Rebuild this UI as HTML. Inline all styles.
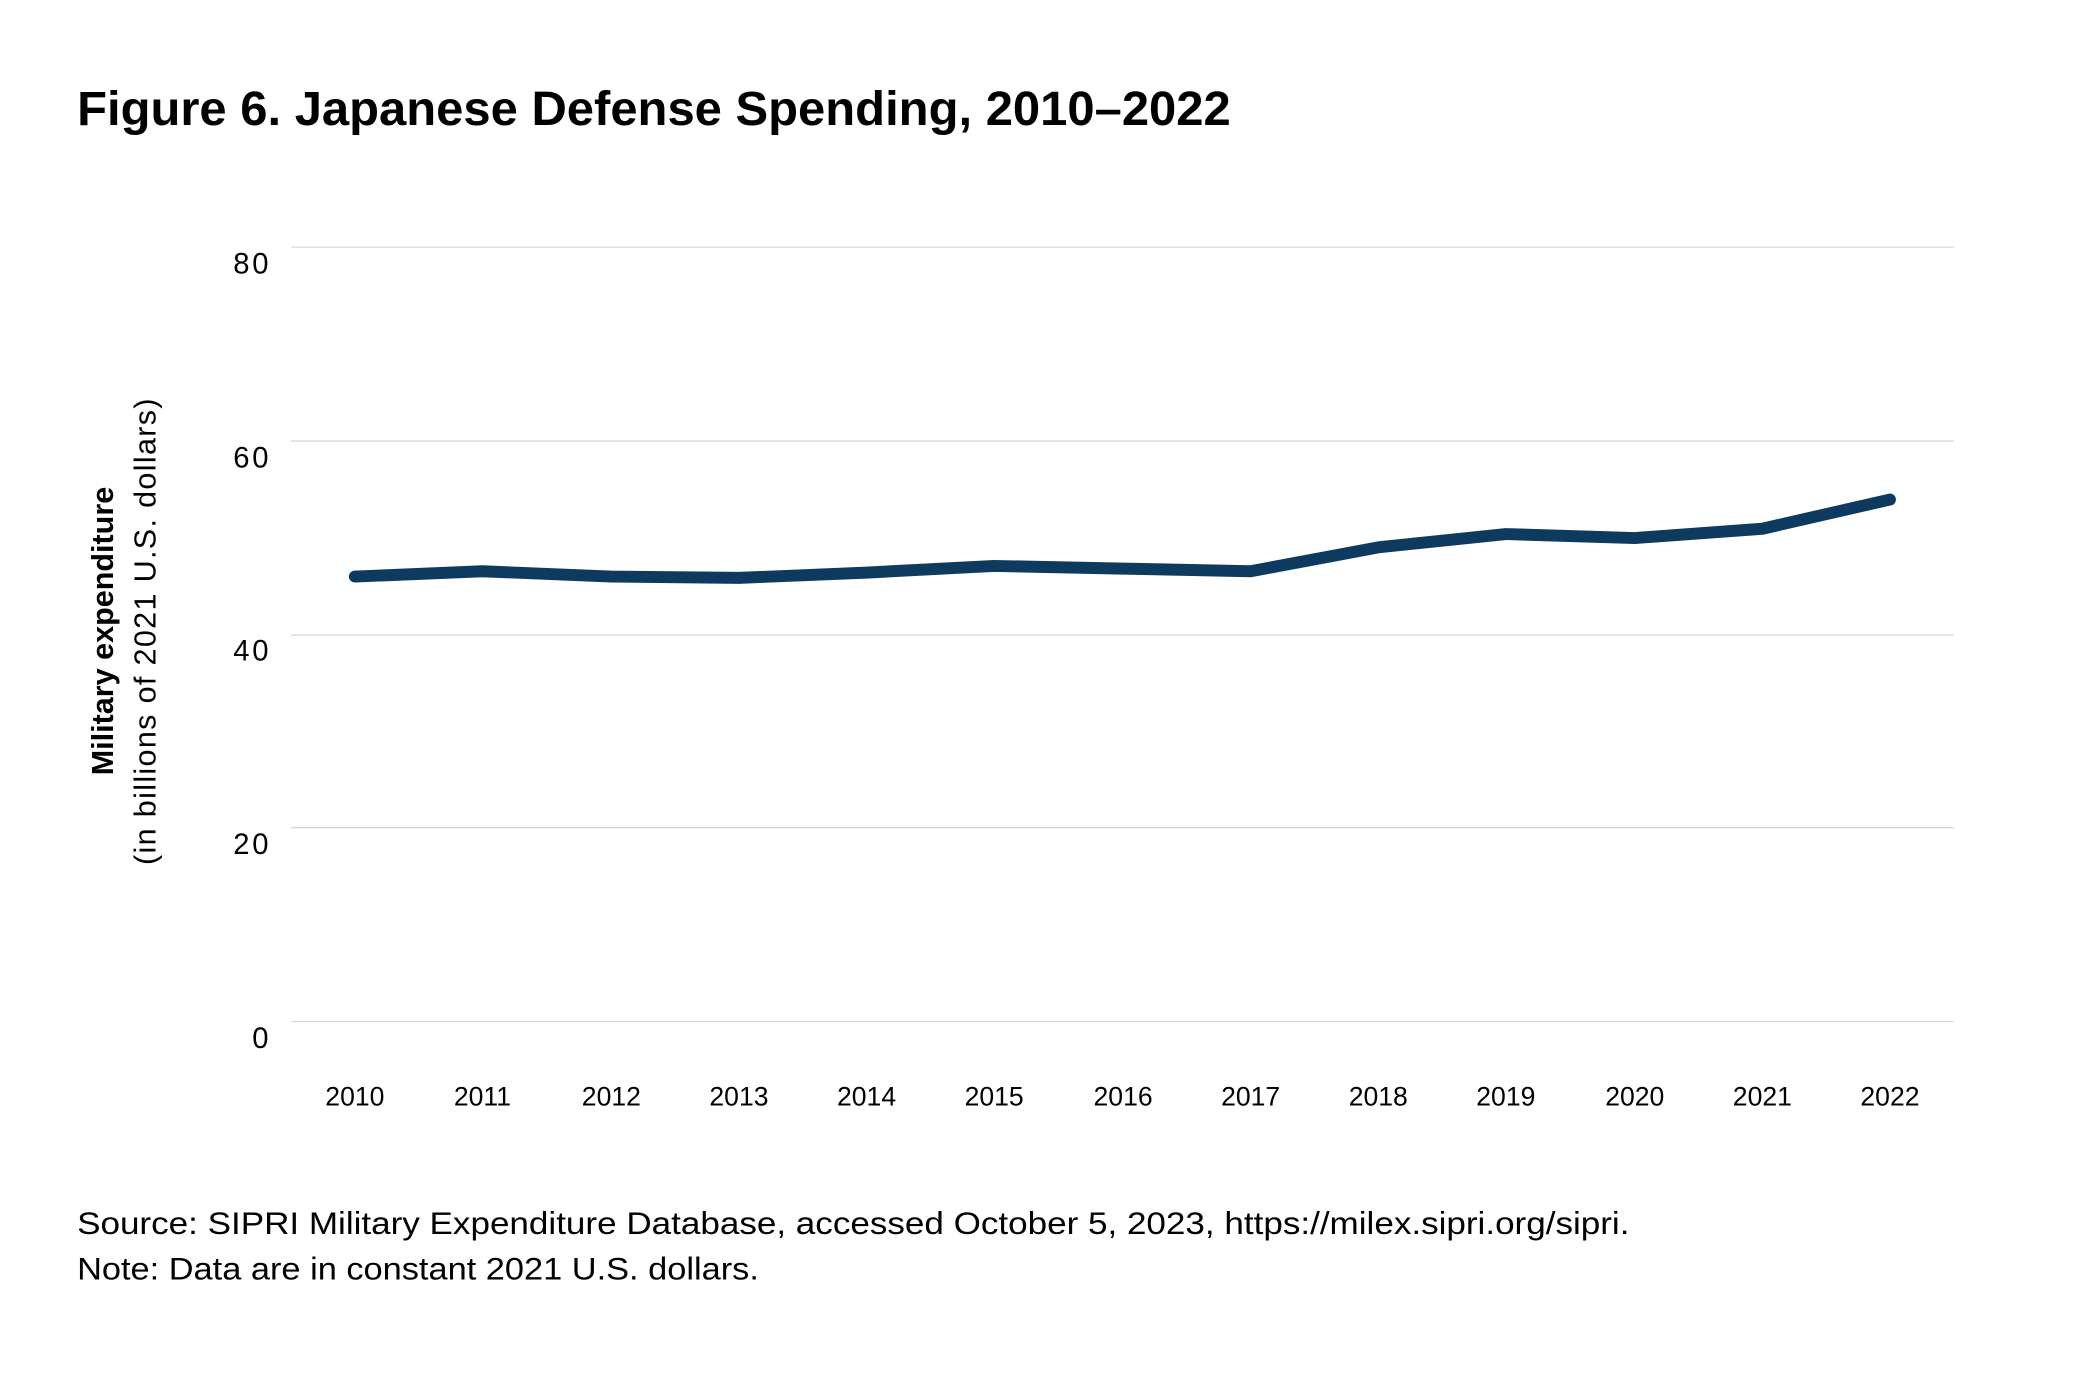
<!DOCTYPE html>
<html><head><meta charset="utf-8"><style>
html,body{margin:0;padding:0;background:#fff}
svg{display:block}
text{font-family:"Liberation Sans",sans-serif;fill:#000}
</style></head><body>
<svg width="2084" height="1379" viewBox="0 0 1568 1038" preserveAspectRatio="none">
<text x="58" y="94" font-size="36" font-weight="bold" textLength="868" lengthAdjust="spacingAndGlyphs">Figure 6. Japanese Defense Spending, 2010–2022</text>
<g stroke="#d9d9d9" stroke-width="1">
<line x1="219" x2="1470" y1="186" y2="186"/>
<line x1="219" x2="1470" y1="332" y2="332"/>
<line x1="219" x2="1470" y1="478" y2="478"/>
<line x1="219" x2="1470" y1="623" y2="623"/>
<line x1="219" x2="1470" y1="769" y2="769"/>
</g>
<g font-size="22" text-anchor="end" letter-spacing="2">
<text x="204" y="206">80</text>
<text x="204" y="352">60</text>
<text x="204" y="497">40</text>
<text x="204" y="643">20</text>
<text x="204" y="789">0</text>
</g>
<g font-size="20" text-anchor="middle">
<text x="267" y="832">2010</text><text x="363" y="832">2011</text><text x="460" y="832">2012</text>
<text x="556" y="832">2013</text><text x="652" y="832">2014</text><text x="748" y="832">2015</text>
<text x="845" y="832">2016</text><text x="941" y="832">2017</text><text x="1037" y="832">2018</text>
<text x="1133" y="832">2019</text><text x="1230" y="832">2020</text><text x="1326" y="832">2021</text>
<text x="1422" y="832">2022</text>
</g>
<text transform="translate(85,475) rotate(-90)" font-size="23" font-weight="bold" text-anchor="middle">Military expenditure</text>
<text transform="translate(117,475) rotate(-90)" font-size="23" text-anchor="middle" letter-spacing="1">(in billions of 2021 U.S. dollars)</text>
<polyline fill="none" stroke="#0f3a5f" stroke-width="9" stroke-linecap="round" stroke-linejoin="round"
points="267,434 363,430 460,434 556,435 652,431 748,426 845,428 941,430 1037,412 1133,402 1230,405 1326,398 1422,376"/>
<text x="58" y="929" font-size="24" textLength="1168" lengthAdjust="spacingAndGlyphs">Source: SIPRI Military Expenditure Database, accessed October 5, 2023, https://milex.sipri.org/sipri.</text>
<text x="58" y="963" font-size="24" textLength="513" lengthAdjust="spacingAndGlyphs">Note: Data are in constant 2021 U.S. dollars.</text>
</svg>
</body></html>
